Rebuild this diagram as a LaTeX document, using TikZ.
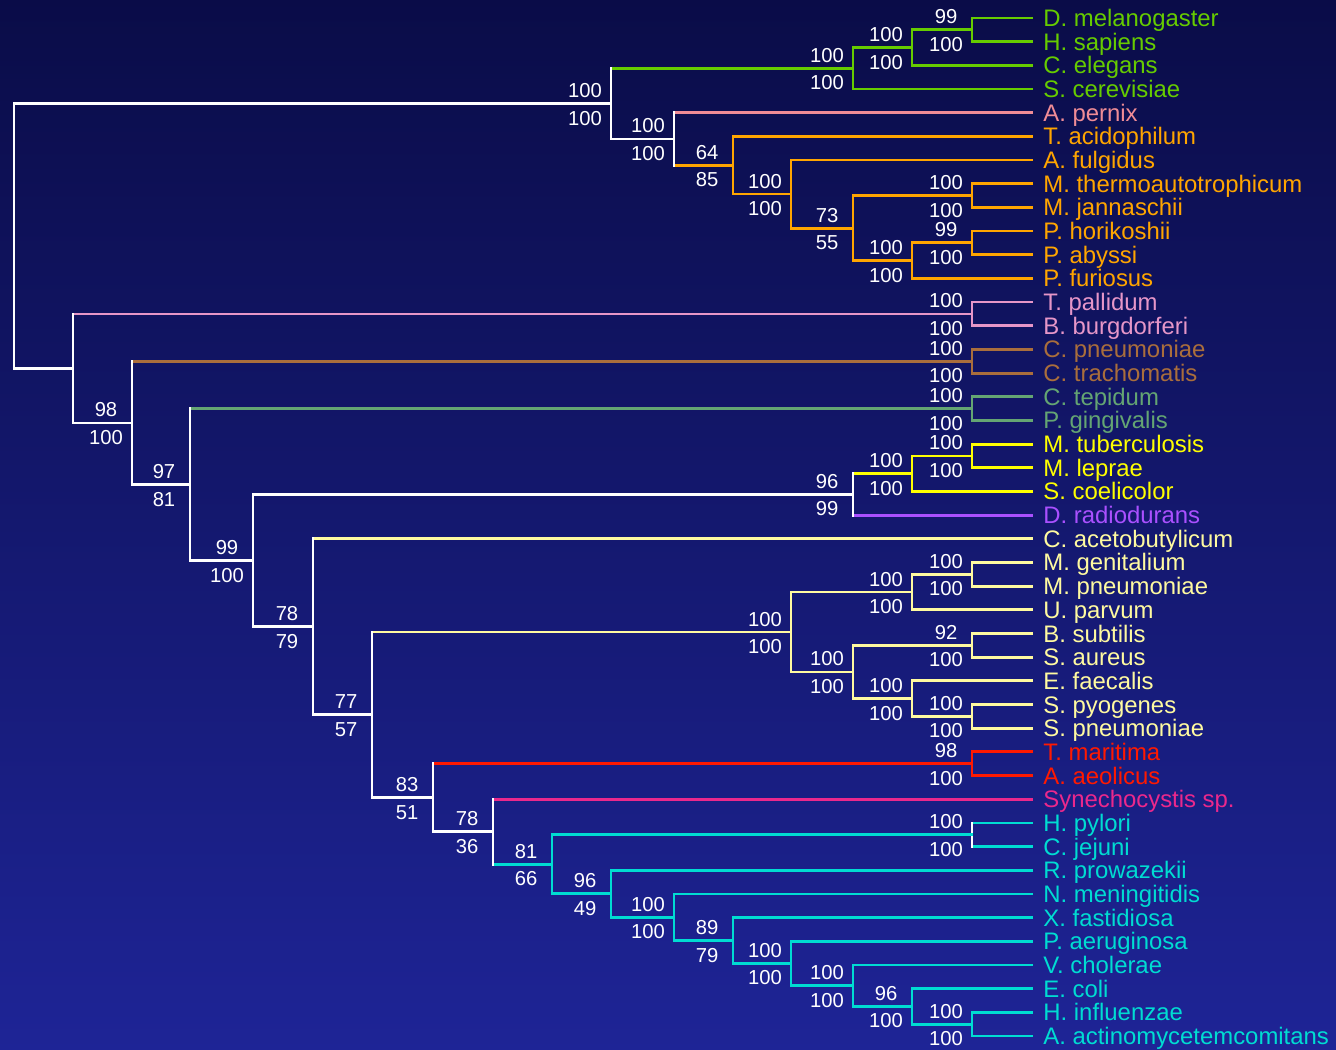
\documentclass[tikz,border=0pt]{standalone}
\usepackage{fontspec}
\setmainfont{Liberation Sans}
\usetikzlibrary{calc}

\definecolor{bgtop}{RGB}{10,12,72}
\definecolor{bgbot}{RGB}{30,36,150}
\definecolor{euk}{RGB}{102,204,0}
\definecolor{pernix}{RGB}{240,140,150}
\definecolor{arch}{RGB}{255,165,0}
\definecolor{spiro}{RGB}{230,150,200}
\definecolor{chlam}{RGB}{170,110,60}
\definecolor{cfb}{RGB}{100,165,115}
\definecolor{actino}{RGB}{255,255,0}
\definecolor{deino}{RGB}{170,80,255}
\definecolor{firm}{RGB}{255,250,160}
\definecolor{aquif}{RGB}{255,25,0}
\definecolor{cyano}{RGB}{235,40,140}
\definecolor{proteo}{RGB}{0,220,210}

% fork: name, x, upper child, lower child, vertical/upper/lower colour
\newcommand\fork[7]{%
  \path ($(#3.center)!.5!(#4.center)$) coordinate (#1m);
  \coordinate (#1) at (#2,0 |- #1m);
  \draw[#6] (#3 -| #1) -- (#3);
  \draw[#7] (#4 -| #1) -- (#4);
  \draw[#5] (#3 -| #1) -- (#4 -| #1);}
% bootstrap values above and below a fork
\newcommand\boot[3]{%
  \node[bs] at ([shift={(-26,-6)}]#1) {#2};
  \node[bs] at ([shift={(-26,21.5)}]#1) {#3};}

\begin{document}
\begin{tikzpicture}[x=0.02cm,y=-0.02cm,line width=0.056cm,line cap=rect,
  leaf/.style={anchor=west,inner xsep=0.2cm,inner ysep=0pt,text height=0.34cm,
    text depth=0pt,font=\fontsize{13.6}{16}\selectfont},
  bs/.style={anchor=base,inner sep=0pt,text=white,font=\fontsize{11.5}{13}\selectfont}]

\useasboundingbox (0,0) rectangle (1336,1050);
\fill[top color=bgtop,bottom color=bgbot] (0,0) rectangle (1336,1050);

\foreach \name/\txt/\col [count=\i from 0] in {
  dmel/D. melanogaster/euk, hsap/H. sapiens/euk, cele/C. elegans/euk,
  scer/S. cerevisiae/euk, aper/A. pernix/pernix, taci/T. acidophilum/arch,
  aful/A. fulgidus/arch, mthe/M. thermoautotrophicum/arch,
  mjan/M. jannaschii/arch, phor/P. horikoshii/arch, paby/P. abyssi/arch,
  pfur/P. furiosus/arch, tpal/T. pallidum/spiro, bbur/B. burgdorferi/spiro,
  cpne/C. pneumoniae/chlam, ctra/C. trachomatis/chlam, ctep/C. tepidum/cfb,
  pgin/P. gingivalis/cfb, mtub/M. tuberculosis/actino, mlep/M. leprae/actino,
  scoe/S. coelicolor/actino, drad/D. radiodurans/deino,
  cace/C. acetobutylicum/firm, mgen/M. genitalium/firm,
  mpne/M. pneumoniae/firm, upar/U. parvum/firm, bsub/B. subtilis/firm,
  saur/S. aureus/firm, efae/E. faecalis/firm, spyo/S. pyogenes/firm,
  spne/S. pneumoniae/firm, tmar/T. maritima/aquif, aaeo/A. aeolicus/aquif,
  syne/Synechocystis sp./cyano, hpyl/H. pylori/proteo, cjej/C. jejuni/proteo,
  rpro/R. prowazekii/proteo, nmen/N. meningitidis/proteo,
  xfas/X. fastidiosa/proteo, paer/P. aeruginosa/proteo,
  vcho/V. cholerae/proteo, ecol/E. coli/proteo, hinf/H. influenzae/proteo,
  aact/A. actinomycetemcomitans/proteo}
  \node[leaf,text=\col] (\name) at (1032,{18+23.674*\i}) {\txt};

% eukaryotes
\fork{e3}{972}{dmel}{hsap}{euk}{euk}{euk}
\fork{e2}{912}{e3}{cele}{euk}{euk}{euk}
\fork{e1}{853}{e2}{scer}{euk}{euk}{euk}
% archaea
\fork{a7}{972}{phor}{paby}{arch}{arch}{arch}
\fork{a6}{912}{a7}{pfur}{arch}{arch}{arch}
\fork{a5}{972}{mthe}{mjan}{arch}{arch}{arch}
\fork{a4}{853}{a5}{a6}{arch}{arch}{arch}
\fork{a3}{791}{aful}{a4}{arch}{arch}{arch}
\fork{a2}{733}{taci}{a3}{arch}{arch}{arch}
\fork{a1}{674}{aper}{a2}{white}{pernix}{arch}
\fork{ea}{611}{e1}{a1}{white}{euk}{white}
% bacteria
\fork{sp}{972}{tpal}{bbur}{spiro}{spiro}{spiro}
\fork{ch}{972}{cpne}{ctra}{chlam}{chlam}{chlam}
\fork{cf}{972}{ctep}{pgin}{cfb}{cfb}{cfb}
\fork{ac3}{972}{mtub}{mlep}{actino}{actino}{actino}
\fork{ac2}{912}{ac3}{scoe}{actino}{actino}{actino}
\fork{ac1}{853}{ac2}{drad}{white}{actino}{deino}
\fork{fi3}{972}{mgen}{mpne}{firm}{firm}{firm}
\fork{fi2}{912}{fi3}{upar}{firm}{firm}{firm}
\fork{fi5}{972}{bsub}{saur}{firm}{firm}{firm}
\fork{fi7}{972}{spyo}{spne}{firm}{firm}{firm}
\fork{fi6}{912}{efae}{fi7}{firm}{firm}{firm}
\fork{fi4}{853}{fi5}{fi6}{firm}{firm}{firm}
\fork{fi1}{791}{fi2}{fi4}{firm}{firm}{firm}
\fork{aq}{972}{tmar}{aaeo}{aquif}{aquif}{aquif}
\fork{pr9}{972}{hinf}{aact}{proteo}{proteo}{proteo}
\fork{pr8}{912}{ecol}{pr9}{proteo}{proteo}{proteo}
\fork{pr7}{853}{vcho}{pr8}{proteo}{proteo}{proteo}
\fork{pr6}{791}{paer}{pr7}{proteo}{proteo}{proteo}
\fork{pr5}{733}{xfas}{pr6}{proteo}{proteo}{proteo}
\fork{pr4}{674}{nmen}{pr5}{proteo}{proteo}{proteo}
\fork{pr3}{611}{rpro}{pr4}{proteo}{proteo}{proteo}
\fork{pr2}{972}{hpyl}{cjej}{white}{proteo}{proteo}
\fork{pr1}{552}{pr2}{pr3}{proteo}{proteo}{proteo}
\fork{b8}{493}{syne}{pr1}{white}{cyano}{proteo}
\fork{b7}{433}{aq}{b8}{white}{aquif}{white}
\fork{b6}{372}{fi1}{b7}{white}{firm}{white}
\fork{b5}{313}{cace}{b6}{white}{firm}{white}
\fork{b4}{253}{ac1}{b5}{white}{white}{white}
\fork{b3}{190}{cf}{b4}{white}{cfb}{white}
\fork{b2}{132}{ch}{b3}{white}{chlam}{white}
\fork{b1}{73}{sp}{b2}{white}{spiro}{white}
\fork{root}{14}{ea}{b1}{white}{white}{white}

% bootstrap support
\boot{e3}{99}{100}    \boot{e2}{100}{100}  \boot{e1}{100}{100}
\boot{ea}{100}{100}   \boot{a1}{100}{100}  \boot{a2}{64}{85}
\boot{a3}{100}{100}   \boot{a4}{73}{55}    \boot{a5}{100}{100}
\boot{a6}{100}{100}   \boot{a7}{99}{100}
\boot{sp}{100}{100}   \boot{ch}{100}{100}  \boot{cf}{100}{100}
\boot{ac3}{100}{100}  \boot{ac2}{100}{100} \boot{ac1}{96}{99}
\boot{fi1}{100}{100}  \boot{fi2}{100}{100} \boot{fi3}{100}{100}
\boot{fi4}{100}{100}  \boot{fi5}{92}{100}  \boot{fi6}{100}{100}
\boot{fi7}{100}{100}  \boot{aq}{98}{100}
\boot{pr1}{81}{66}    \boot{pr2}{100}{100} \boot{pr3}{96}{49}
\boot{pr4}{100}{100}  \boot{pr5}{89}{79}   \boot{pr6}{100}{100}
\boot{pr7}{100}{100}  \boot{pr8}{96}{100}  \boot{pr9}{100}{100}
\boot{b2}{98}{100}    \boot{b3}{97}{81}    \boot{b4}{99}{100}
\boot{b5}{78}{79}     \boot{b6}{77}{57}    \boot{b7}{83}{51}
\boot{b8}{78}{36}

\end{tikzpicture}
\end{document}
